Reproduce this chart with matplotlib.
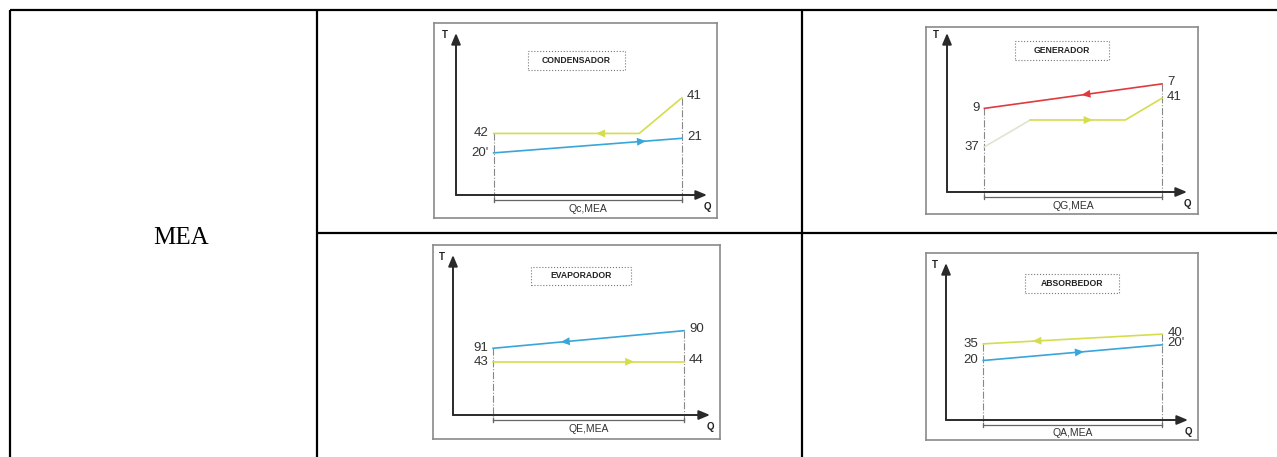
import numpy as np
import matplotlib.pyplot as plt
from matplotlib.patches import Rectangle

plt.rcParams['font.family'] = ['Liberation Sans', 'DejaVu Sans']

# data: four heat exchanger T-Q diagrams of the MEA cycle
row_label = 'MEA'
titles = ['CONDENSADOR', 'GENERADOR', 'EVAPORADOR', 'ABSORBEDOR']
duties = ['Qc,MEA', 'QG,MEA', 'QE,MEA', 'QA,MEA']

# streams per panel: Q points, T points, left/right stream numbers, arrow position (Q) and direction
cond_hot_q = [1.5, 7.3, 9.0]
cond_hot_t = [3.8, 3.8, 6.0]
cond_cold_q = [1.5, 9.0]
cond_cold_t = [2.6, 3.5]

gen_hot_q = [1.56, 8.96]
gen_hot_t = [5.26, 6.8]
gen_cold_q = [1.56, 3.47, 7.43, 8.96]
gen_cold_t = [2.84, 4.53, 4.53, 5.9]

evap_hot_q = [1.56, 8.99]
evap_hot_t = [4.17, 5.27]
evap_cold_q = [1.56, 8.99]
evap_cold_t = [3.33, 3.33]

abs_hot_q = [1.54, 8.94]
abs_hot_t = [4.85, 5.47]
abs_cold_q = [1.54, 8.94]
abs_cold_t = [3.79, 4.79]

YEL = '#d5dd4c'
BLU = '#38a6da'
RED = '#e03a3e'
PALE = '#dfe5cf'

streams = [
    [dict(q=cond_hot_q, t=cond_hot_t, labels=('42', '41'), arrow=5.68, d=-1, color=YEL),
     dict(q=cond_cold_q, t=cond_cold_t, labels=("20'", '21'), arrow=7.47, d=1, color=BLU)],
    [dict(q=gen_hot_q, t=gen_hot_t, labels=('9', '7'), arrow=5.7, d=-1, color=RED),
     dict(q=gen_cold_q, t=gen_cold_t, labels=('37', '41'), arrow=5.97, d=1, color=YEL, first=PALE)],
    [dict(q=evap_hot_q, t=evap_hot_t, labels=('91', '90'), arrow=4.29, d=-1, color=BLU),
     dict(q=evap_cold_q, t=evap_cold_t, labels=('43', '44'), arrow=6.95, d=1, color=YEL)],
    [dict(q=abs_hot_q, t=abs_hot_t, labels=('35', '40'), arrow=3.67, d=-1, color=YEL),
     dict(q=abs_cold_q, t=abs_cold_t, labels=('20', "20'"), arrow=5.6, d=1, color=BLU)],
]

# layout (pixels of the 1277x457 picture)
W, H = 1277, 457
boxes = [(434, 23, 717, 218), (926, 27, 1198, 214), (433, 245, 720, 439), (926, 253, 1198, 440)]
origins = [(456, 195), (947, 192), (453, 415), (946, 420)]
tips = [(707, 33), (1187, 33), (710, 255), (1188, 263)]
title_pos = [(4.8, 8.3), (4.8, 8.9), (4.97, 8.7), (5.2, 8.7)]
AX_LEN = 10

fig = plt.figure(figsize=(W / 100, H / 100), dpi=100)
bg = fig.add_axes([0, 0, 1, 1])
bg.set_xlim(0, W)
bg.set_ylim(H, 0)
bg.axis('off')

# table grid
lw_t = 1.6
bg.plot([10, W], [10, 10], color='k', lw=lw_t, solid_capstyle='butt')
bg.plot([10, 10], [10, H], color='k', lw=lw_t, solid_capstyle='butt')
bg.plot([317, 317], [10, H], color='k', lw=lw_t, solid_capstyle='butt')
bg.plot([802, 802], [10, H], color='k', lw=lw_t, solid_capstyle='butt')
bg.plot([317, W], [233, 233], color='k', lw=lw_t, solid_capstyle='butt')
bg.text(181, 238, row_label, fontsize=18, family='Liberation Serif', ha='center', va='center')

for i in range(4):
    x0, y0, x1, y1 = boxes[i]
    ox, oy = origins[i]
    xt, yt = tips[i]
    ux = (xt - ox) / AX_LEN
    uy = (oy - yt) / AX_LEN
    ax = fig.add_axes([x0 / W, 1 - y1 / H, (x1 - x0) / W, (y1 - y0) / H])
    ax.set_xlim((x0 - ox) / ux, (x1 - ox) / ux)
    ax.set_ylim((oy - y1) / uy, (oy - y0) / uy)
    ax.set_xticks([])
    ax.set_yticks([])
    for s in ax.spines.values():
        s.set_color('#8a8a8a')
        s.set_linewidth(1.2)

    # T and Q axes
    ap = dict(arrowstyle='-|>,head_length=0.6,head_width=0.25', color='#2a2a2a', lw=1.4,
              shrinkA=0, shrinkB=0, mutation_scale=11)
    ax.annotate('', xy=(0, AX_LEN), xytext=(0, 0), arrowprops=ap)
    ax.annotate('', xy=(AX_LEN, 0), xytext=(0, 0), arrowprops=ap)
    ax.text(-0.45, AX_LEN - 0.1, 'T', fontsize=7, fontweight='bold', ha='center', va='center', color='#222')
    ax.text(AX_LEN, -0.75, 'Q', fontsize=7, fontweight='bold', ha='center', va='center', color='#222')

    # title box
    cq, ct = title_pos[i]
    ax.add_patch(Rectangle((cq - 1.95, ct - 0.58), 3.9, 1.16, facecolor='white',
                           edgecolor='#777777', lw=0.8, ls=':'))
    ax.text(cq, ct, titles[i], fontsize=6.2, fontweight='bold', ha='center', va='center', color='#222')

    st = streams[i]
    qa = st[0]['q'][0]
    qb = st[0]['q'][-1]
    top_a = max(s['t'][0] for s in st)
    top_b = max(s['t'][-1] for s in st)
    ax.plot([qa, qa], [top_a, -0.45], color='#888888', lw=0.8, ls='-.')
    ax.plot([qb, qb], [top_b, -0.45], color='#888888', lw=0.8, ls='-.')

    # duty bracket
    ax.plot([qa, qb], [-0.3, -0.3], color='#666666', lw=0.9)
    ax.plot([qa, qa], [-0.42, -0.18], color='#666666', lw=0.9)
    ax.plot([qb, qb], [-0.42, -0.18], color='#666666', lw=0.9)
    ax.text((qa + qb) / 2, -0.85, duties[i], fontsize=7.5, ha='center', va='center', color='#333')

    for s in st:
        q = np.array(s['q'])
        t = np.array(s['t'])
        if 'first' in s:
            ax.plot(q[:2], t[:2], color=s['first'], lw=1.2)
            ax.plot(q[1:], t[1:], color=s['color'], lw=1.2)
        else:
            ax.plot(q, t, color=s['color'], lw=1.2)
        qm = s['arrow']
        tm = np.interp(qm, q, t)
        tn = np.interp(qm + 0.1 * s['d'], q, t)
        ax.annotate('', xy=(qm + 0.1 * s['d'], tn), xytext=(qm, tm),
                    arrowprops=dict(arrowstyle='-|>,head_length=0.5,head_width=0.22', color=s['color'],
                                    lw=0, shrinkA=0, shrinkB=0, mutation_scale=13))
        ax.text(q[0] - 0.2, t[0], s['labels'][0], fontsize=9.5, ha='right', va='center', color='#333')
        ax.text(q[-1] + 0.2, t[-1] + 0.1, s['labels'][1], fontsize=9.5, ha='left', va='center', color='#333')

fig.savefig('out.png', dpi=100)
